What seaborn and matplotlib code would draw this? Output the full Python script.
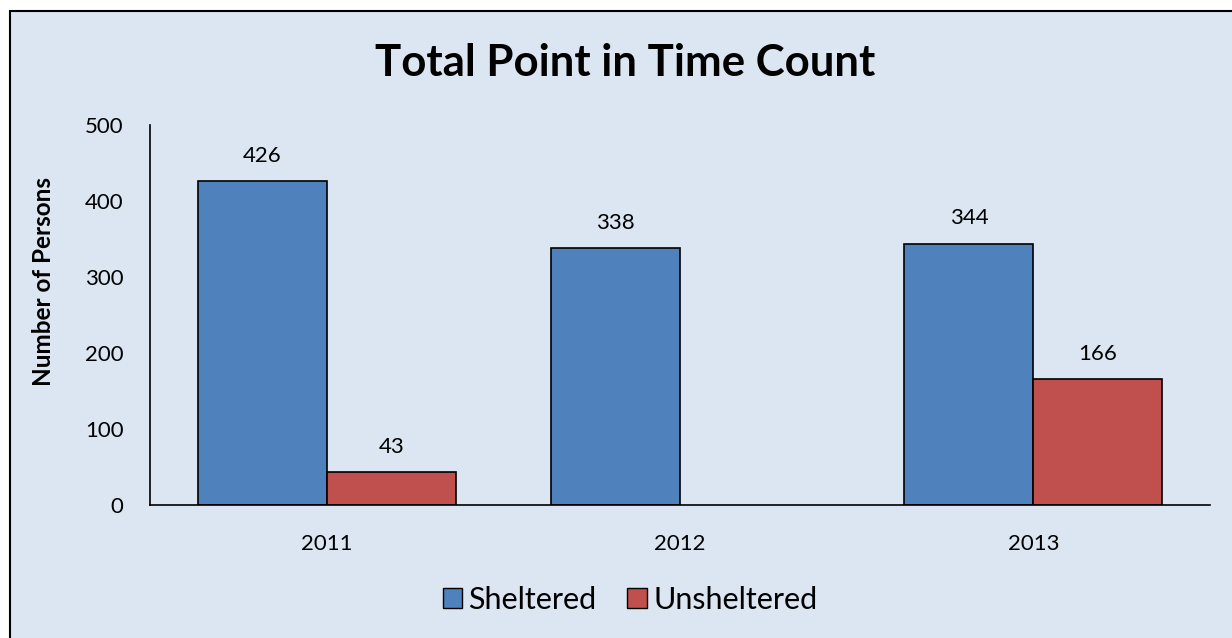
import seaborn as sns
import matplotlib.pyplot as plt
import matplotlib.patches as mpatches
import pandas as pd
import numpy as np

# values
years = ['2011', '2012', '2013']
sheltered = [426, 338, 344]
unsheltered = [43, np.nan, 166]
series = ['Sheltered', 'Unsheltered']

rows = []
for i in range(len(years)):
    rows.append({'year': years[i], 'type': 'Sheltered', 'count': sheltered[i]})
    if not np.isnan(unsheltered[i]):
        rows.append({'year': years[i], 'type': 'Unsheltered', 'count': unsheltered[i]})
df = pd.DataFrame(rows)

sns.set_style('white')
plt.rcParams['font.family'] = ['Lato', 'DejaVu Sans']
plt.rcParams['text.color'] = 'black'
plt.rcParams['xtick.color'] = 'black'
plt.rcParams['ytick.color'] = 'black'
plt.rcParams['axes.labelcolor'] = 'black'

bg = '#DCE6F2'
colors = {'Sheltered': '#4F81BD', 'Unsheltered': '#C0504D'}

fig = plt.figure(figsize=(12.32, 6.38), dpi=100, facecolor='white')
# chart area with black border, starting a little in from the top-left corner
fig.patches.append(mpatches.Rectangle((10 / 1232, -0.01), 1.0, 1.01 - 11 / 638,
                                      transform=fig.transFigure, facecolor=bg,
                                      edgecolor='black', linewidth=1.5, zorder=-1))

ax = fig.add_axes([150 / 1232, 1 - 505 / 638, 1060 / 1232, 380 / 638])
ax.set_facecolor(bg)
ax.patch.set_alpha(0)

sns.barplot(data=df, x='year', y='count', hue='type', hue_order=series,
            order=years, palette=colors, width=0.73, edgecolor='black',
            linewidth=1.2, saturation=1, ax=ax, legend=False)

for c in ax.containers:
    ax.bar_label(c, fmt='%d', padding=11, fontsize=16)

ax.set_ylim(0, 500)
ax.set_xlim(-0.5, 2.5)
ax.set_yticks([0, 100, 200, 300, 400, 500])
ax.tick_params(axis='both', length=0, labelsize=16)
ax.tick_params(axis='x', pad=21)
ax.tick_params(axis='y', pad=19)
ax.set_xlabel('')
ax.set_ylabel('Number of Persons', fontsize=17.5, fontweight='bold')
ax.yaxis.set_label_coords((55 - 150) / 1060, (505 - 281) / 380)
for s in ['top', 'right']:
    ax.spines[s].set_visible(False)
for s in ['left', 'bottom']:
    ax.spines[s].set_color('black')
    ax.spines[s].set_linewidth(1.2)

fig.text(625 / 1232, 1 - 63 / 638, 'Total Point in Time Count', ha='center',
         va='center', fontsize=31.5, fontweight='bold')

handles = [mpatches.Patch(facecolor=colors[s], edgecolor='black', label=s) for s in series]
fig.legend(handles=handles, loc='center', bbox_to_anchor=(630 / 1232, 1 - 600 / 638),
           ncol=2, frameon=False, fontsize=22, handlelength=0.65, handleheight=0.65,
           handletextpad=0.2, columnspacing=1.0)

fig.savefig('out.png', dpi=100, facecolor='white')
